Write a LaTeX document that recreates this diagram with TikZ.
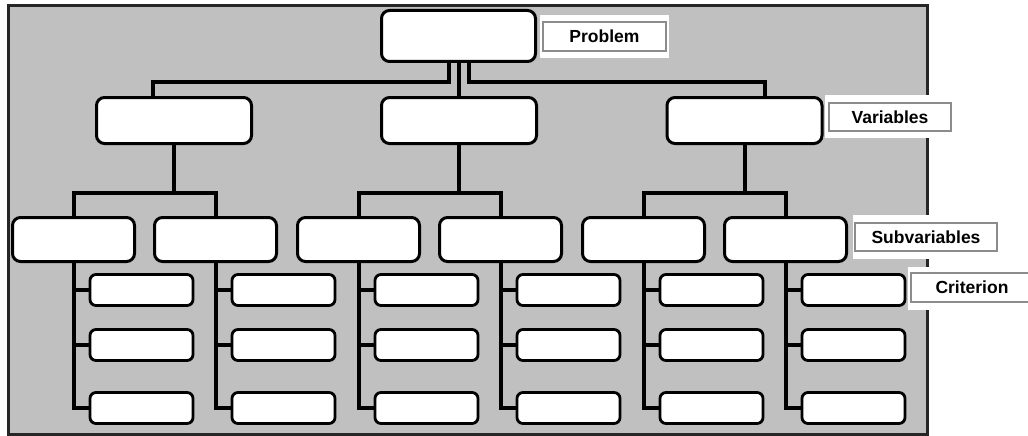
\documentclass[tikz,border=0pt]{standalone}
\usepackage{fontspec}
\setmainfont{Liberation Sans}
\pgfdeclarelayer{background}
\pgfsetlayers{background,main}
\begin{document}
\begin{tikzpicture}[x=1pt,y=-1pt,
  panel/.style={fill=panelgray,draw=black!85,line width=3pt},
  link/.style={line width=4pt,line cap=rect,draw=black},
  bigbox/.style={draw=black,fill=white,line width=3pt,rounded corners=8pt,
    minimum width=155pt,minimum height=46pt,inner sep=0pt},
  subbox/.style={draw=black,fill=white,line width=3pt,rounded corners=8pt,
    minimum width=122pt,minimum height=44pt,inner sep=0pt},
  critbox/.style={draw=black,fill=white,line width=2.8pt,rounded corners=6pt,
    minimum width=103pt,minimum height=31pt,inner sep=0pt},
  patch/.style={fill=white,draw=none,inner sep=0pt},
  tag/.style={draw=black!45,line width=1.2pt,fill=white,inner sep=0pt,
    font=\fontsize{17.5}{20}\selectfont\bfseries}]
\definecolor{panelgray}{HTML}{C0C0C0}
\useasboundingbox (0,0) rectangle (1028,436);

% problem and variables
\node[bigbox,minimum width=154pt,minimum height=51pt] (top) at (458.5,36) {};
\node[bigbox] (v1) at (174,120.5) {};
\node[bigbox] (v2) at (459,120.5) {};
\node[bigbox] (v3) at (744.5,120.5) {};

% subvariables with their three criteria each
\foreach \i/\x in {1/73.5,2/215.5,3/358.5,4/500.5,5/643.5,6/785.5}{
  \node[subbox] (s\i) at (\x,239.5) {};
  \node[critbox] (c\i a) at (\x+68,290) {};
  \node[critbox] (c\i b) at (\x+68,345) {};
  \node[critbox] (c\i c) at (\x+68,408) {};
}

\begin{pgfonlayer}{background}
% grey panel
\draw[panel] (8,6) rectangle (927,434);

% problem to variables
\draw[link] ([xshift=-9.5pt]top.south) -- ++(0,19) -| ([xshift=-21pt]v1.north);
\draw[link] ([xshift=0.5pt]top.south) -- (v2.north);
\draw[link] ([xshift=10.5pt]top.south) -- ++(0,19) -| ([xshift=20.5pt]v3.north);

% variables to subvariables
\foreach \v/\a/\b in {v1/s1/s2,v2/s3/s4,v3/s5/s6}{
  \draw[link] (\v.south) -- ++(0,48);
  \draw[link] (\a.north) -- ++(0,-23) -| (\b.north);
}

% subvariables to criteria
\foreach \i in {1,...,6}{
  \draw[link] (s\i.south) |- (c\i c.west);
  \draw[link] (c\i a.west) -- (c\i a.west -| s\i.south);
  \draw[link] (c\i b.west) -- (c\i b.west -| s\i.south);
}
\end{pgfonlayer}

% level labels
\node[patch,minimum width=129pt,minimum height=43pt] (pp) at (604.5,36.5) {};
\node[tag,minimum width=123pt,minimum height=29pt] (lp) at (pp) {Problem};
\node[patch,minimum width=128pt,minimum height=43pt] (pv) at (889,116.5) {};
\node[tag,minimum width=122pt,minimum height=28pt] (lv) at (890,117) {Variables};
\node[patch,minimum width=147pt,minimum height=44pt] (ps) at (926.5,237) {};
\node[tag,minimum width=142pt,minimum height=28pt] (ls) at (926,237) {Subvariables};
\node[patch,minimum width=124pt,minimum height=43pt] (pc) at (970,288.5) {};
\node[tag,minimum width=122pt,minimum height=29pt] (lc) at (972,287.5) {Criterion};
\end{tikzpicture}
\end{document}
